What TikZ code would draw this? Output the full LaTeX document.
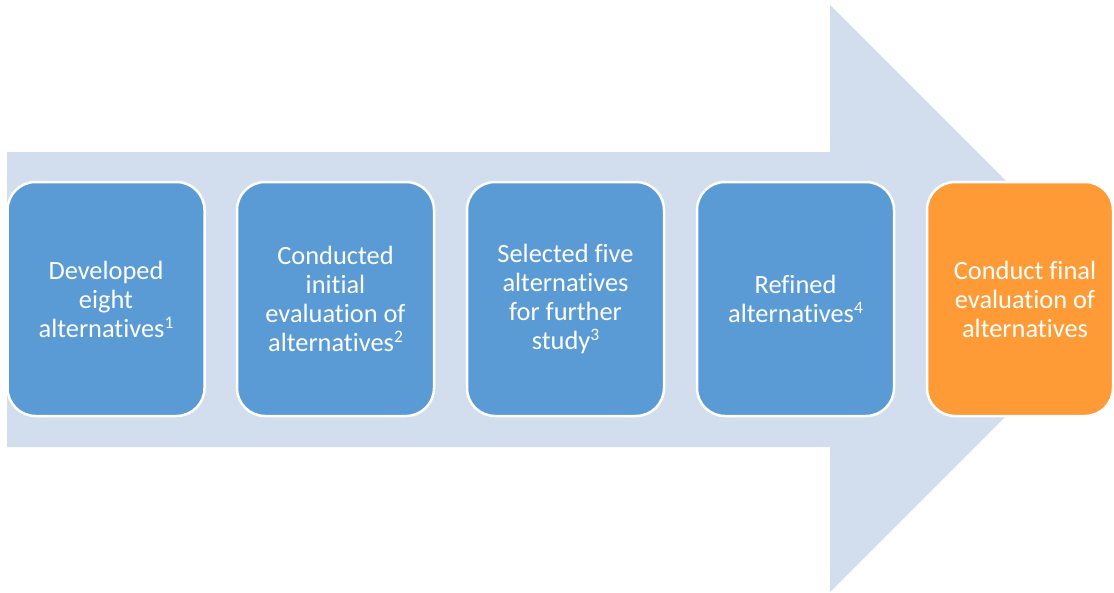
\documentclass[tikz,border=0pt]{standalone}
\usepackage{fontspec}
\setmainfont{Carlito}[Ligatures={NoCommon,NoContextual}]

\definecolor{shaftblue}{HTML}{D2DDEE}
\definecolor{stepblue}{HTML}{5B9BD5}
\definecolor{steporange}{HTML}{FF9B36}

\newcommand{\stepsup}[1]{\raisebox{0.33em}{\fontsize{17.5}{17.5}\selectfont #1}}
\newcommand{\padl}{\hspace*{10pt}}

\tikzset{
  stepbox/.style={
    rectangle, rounded corners=28pt,
    draw=white, line width=2.5pt,
    fill=stepblue, text=white,
    align=center, inner sep=4pt,
    minimum width=197pt, minimum height=234pt,
    font=\fontsize{26.4}{29}\selectfont
  },
  finalbox/.style={stepbox, fill=steporange, minimum width=186pt}
}

\begin{document}
\begin{tikzpicture}[x=1pt, y=-1pt]
  \useasboundingbox (0,0) rectangle (1114,592);
  \clip (0,0) rectangle (1114,592);

  % large background arrow
  \fill[shaftblue] (7,152) -- (830,152) -- (830,5) -- (1123.5,298.5)
    -- (830,592) -- (830,447) -- (7,447) -- cycle;

  % process steps
  \node[stepbox] (s1) at (106,299)
    {Developed\\eight\\alternatives\stepsup{1}};
  \node[stepbox] (s2) at (335.5,299)
    {Conducted\\initial\\evaluation of\\alternatives\stepsup{2}};
  \node[stepbox] (s3) at (565.5,299)
    {Selected five\\alternatives\\for further\\study\stepsup{3}};
  \node[stepbox] (s4) at (795.5,299)
    {Refined\\alternatives\stepsup{4}};
  % last step: box meets the right edge, text stays centred on the full step width
  \node[finalbox] (s5) at (1020,299)
    {\padl Conduct final\\\padl evaluation of\\\padl alternatives};
\end{tikzpicture}
\end{document}
